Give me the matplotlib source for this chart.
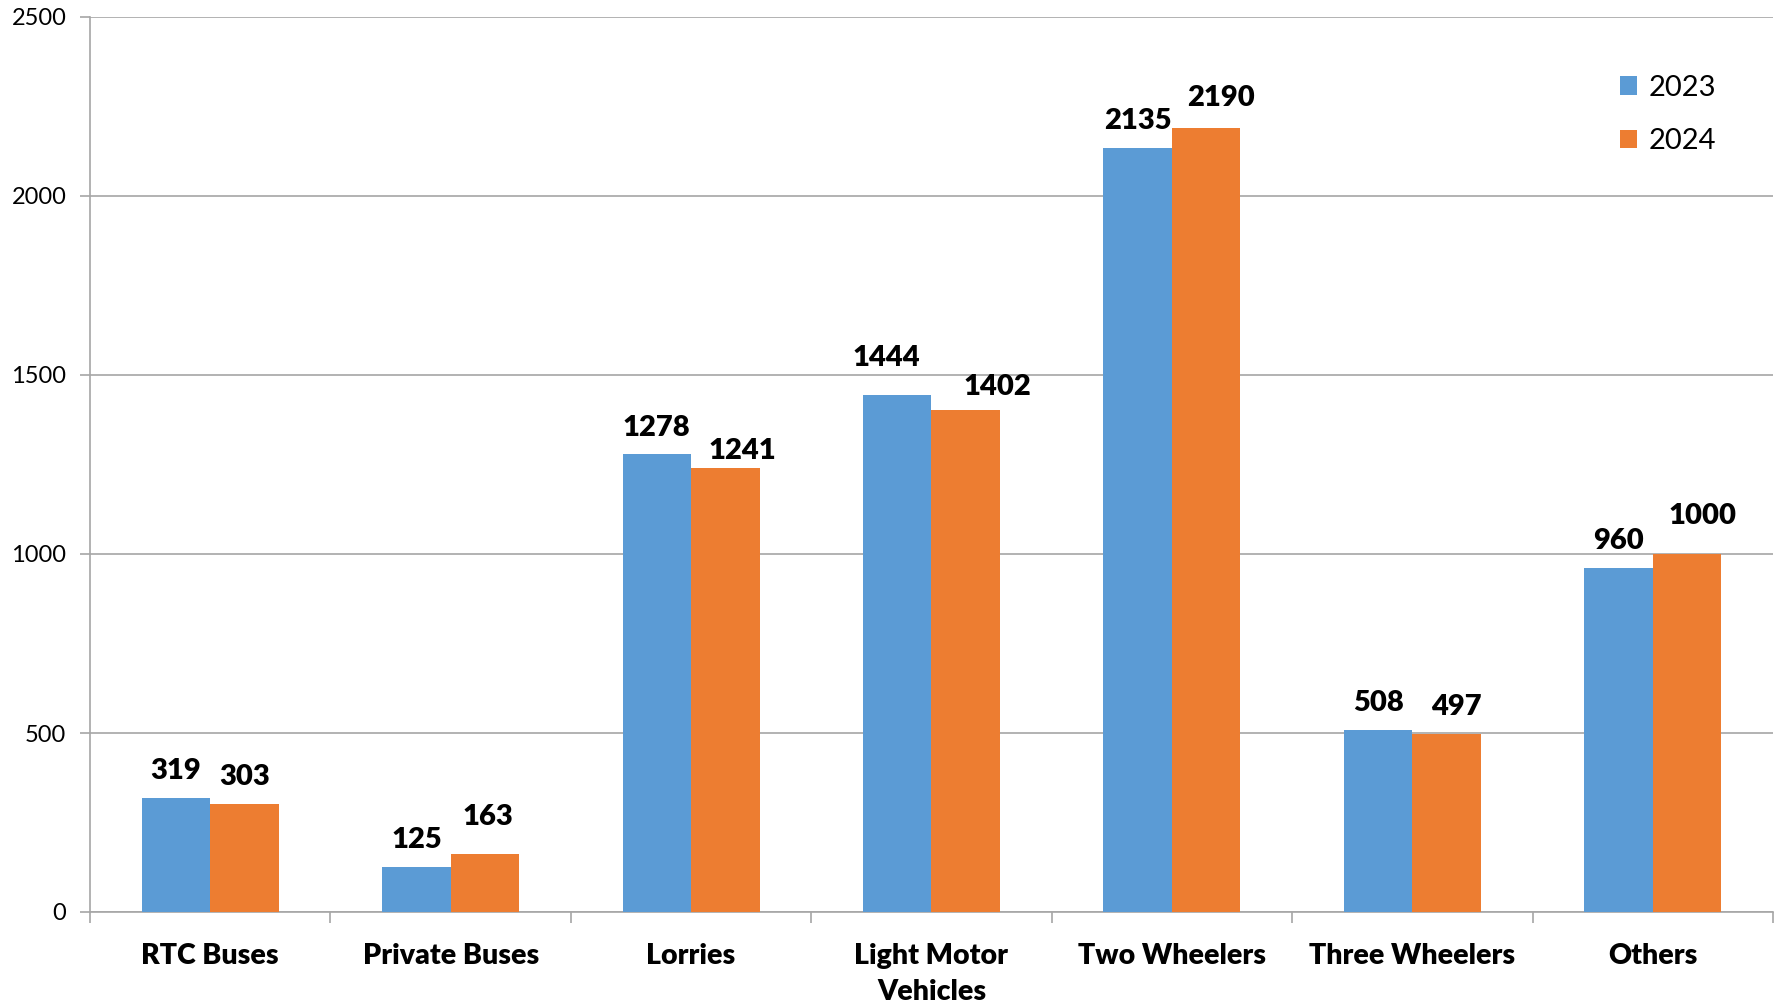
import numpy as np
import matplotlib.pyplot as plt

categories = ["RTC Buses", "Private Buses", "Lorries", "Light Motor\nVehicles",
              "Two Wheelers", "Three Wheelers", "Others"]
y2023 = [319, 125, 1278, 1444, 2135, 508, 960]
y2024 = [303, 163, 1241, 1402, 2190, 497, 1000]

# hand-placed label nudges (points), like the original chart
nudge2023 = [(0, 0), (0, 0), (0, 0), (-8, 7), (0, 0), (0, 0), (0, 0)]
nudge2024 = [(0, 0), (2, 7), (12, -7), (23, -3), (11, 2), (7, 0), (11, 8)]

plt.rcParams['font.family'] = ['Lato', 'DejaVu Sans']

fig = plt.figure(figsize=(17.81, 10.06), dpi=100)
ax = fig.add_axes([90 / 1781, 1 - 912 / 1006, (1773 - 90) / 1781, (912 - 17) / 1006])

x = np.arange(len(categories))
w = 0.285
b1 = ax.bar(x - w / 2, y2023, w, color="#5b9bd5", label="2023", zorder=3)
b2 = ax.bar(x + w / 2, y2024, w, color="#ed7d31", label="2024", zorder=3)

for bars, nudges in ((b1, nudge2023), (b2, nudge2024)):
    for r, (dx, dy) in zip(bars, nudges):
        ax.annotate(str(int(r.get_height())), (r.get_x() + r.get_width() / 2, r.get_height()),
                    xytext=(dx, 10 + dy), textcoords="offset points", ha="center", va="bottom",
                    fontsize=21, fontweight="heavy")

ax.set_xlim(-0.5, len(categories) - 0.5)
ax.set_ylim(0, 2500)
ax.set_yticks(range(0, 2501, 500))
ax.yaxis.grid(True, color="#a6a6a6", linewidth=1.2, zorder=0)
ax.tick_params(axis="y", labelsize=17, length=7, color="#a6a6a6", width=1.2, pad=10)

ax.set_xticks(x)
ax.set_xticklabels(categories, fontsize=20.5, fontweight="heavy", linespacing=1.5)
ax.set_xticks(np.arange(-0.5, len(categories)), minor=True)
ax.tick_params(axis="x", which="major", length=0, pad=22)
ax.tick_params(axis="x", which="minor", length=8, color="#a6a6a6", width=1.2)

for s in ("top", "right"):
    ax.spines[s].set_visible(False)
for s in ("left", "bottom"):
    ax.spines[s].set_color("#a6a6a6")
    ax.spines[s].set_linewidth(1.2)

ax.legend(loc="upper right", bbox_to_anchor=(0.982, 0.965), frameon=False, fontsize=21,
          handlelength=0.6, handleheight=0.6, labelspacing=0.95, handletextpad=0.4)

fig.savefig("out.png", dpi=100)
